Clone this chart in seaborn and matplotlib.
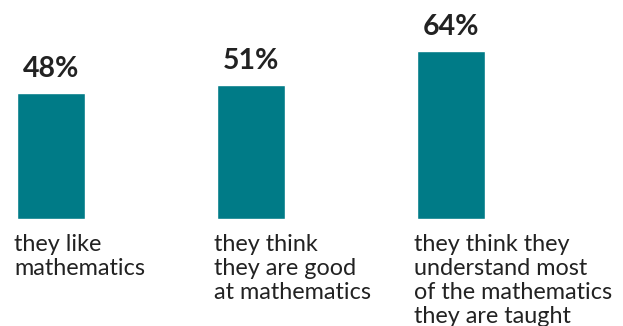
import matplotlib
matplotlib.use("Agg")
import matplotlib.pyplot as plt
import seaborn as sns
import pandas as pd

categories = ["they like\nmathematics",
              "they think\nthey are good\nat mathematics",
              "they think they\nunderstand most\nof the mathematics\nthey are taught"]
values = [48, 51, 64]
value_labels = ["48%", "51%", "64%"]

sns.set_theme(style="white")
plt.rcParams['font.family'] = ['Lato', 'DejaVu Sans']

df = pd.DataFrame({"cat": categories, "val": values})

fig = plt.figure(figsize=(6.23, 3.26), dpi=100)
ax = fig.add_axes([0, 107/326, 1, 219/326])
sns.barplot(data=df, x="cat", y="val", color="#007B87", saturation=1, width=0.34, ax=ax)
ax.set_xlim(-0.255, 2.86)
ax.set_ylim(0, 83.3)
ax.axis("off")

for i, (v, lab) in enumerate(zip(values, value_labels)):
    ax.annotate(lab, (i, v), xytext=(0, 8), textcoords="offset points",
                ha="center", va="bottom", fontsize=20.5, fontweight="bold", color="#222222")
    ax.text(i - 0.185, -5.8, categories[i], ha="left", va="top", fontsize=16.8,
            color="#222222", linespacing=1.17, clip_on=False)

fig.savefig("out.png", dpi=100)
